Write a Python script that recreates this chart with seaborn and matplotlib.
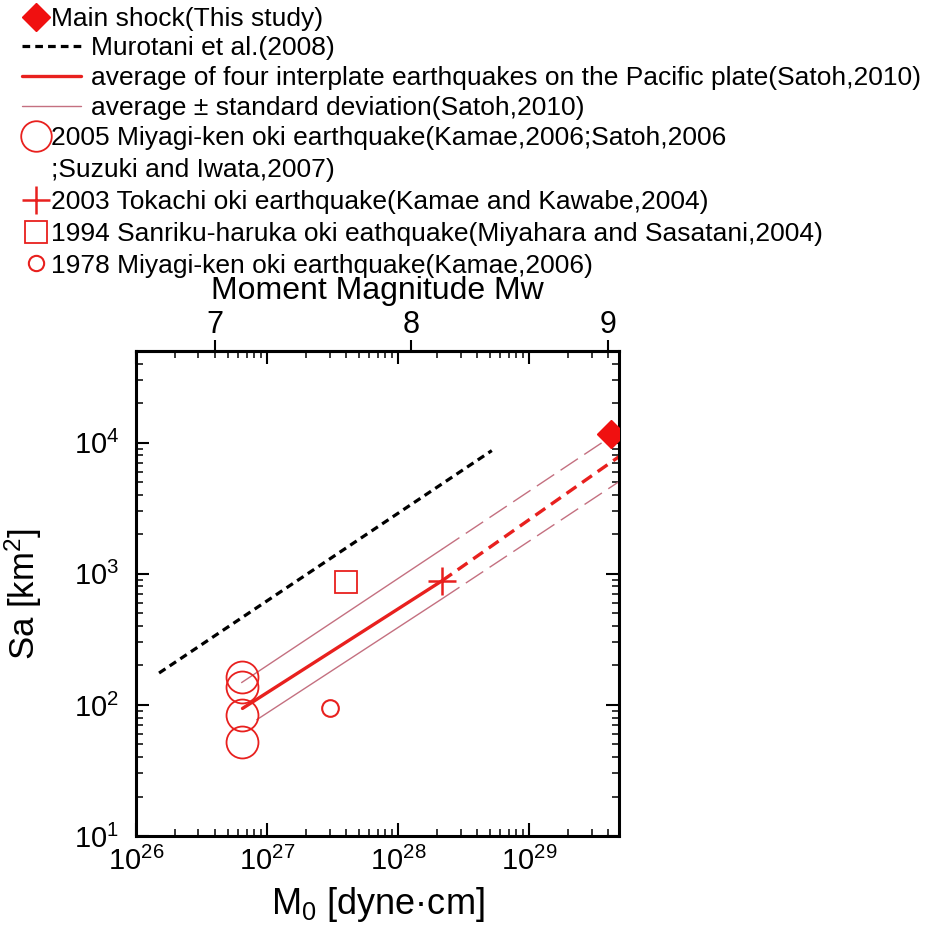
import numpy as np
import matplotlib
matplotlib.use('Agg')
import matplotlib.pyplot as plt
from matplotlib.lines import Line2D
from matplotlib.ticker import NullFormatter, NullLocator
import seaborn as sns

# values (M0 in dyne-cm, Sa in km^2)
main_m0 = [4.23e29]
main_sa = [11700]

murotani_m0 = [1.5e26, 5.2e28]
murotani_sa = [175, 8700]

# Satoh (2010): average, solid up to the 2003 event then extrapolated (dashed)
avg_m0 = [6.5e26, 2.17e28, 4.86e29]
avg_sa = [94, 885, 7820]
upper_m0 = [6.4e26, 2.17e28, 4.86e29]
upper_sa = [148, 1540, 12200]
lower_m0 = [8.34e26, 2.17e28, 4.86e29]
lower_sa = [77, 645, 5040]

miyagi2005_m0 = [6.4e26, 6.4e26, 6.4e26, 6.4e26]
miyagi2005_sa = [164, 138, 84, 52.5]
tokachi2003_m0 = [2.17e28]
tokachi2003_sa = [885]
sanriku1994_m0 = [3.99e27]
sanriku1994_sa = [873]
miyagi1978_m0 = [3.03e27]
miyagi1978_sa = [95]

labels = ['Main shock(This study)',
          'Murotani et al.(2008)',
          'average of four interplate earthquakes on the Pacific plate(Satoh,2010)',
          'average \u00b1 standard deviation(Satoh,2010)',
          '2005 Miyagi-ken oki earthquake(Kamae,2006;Satoh,2006',
          ';Suzuki and Iwata,2007)',
          '2003 Tokachi oki earthquake(Kamae and Kawabe,2004)',
          '1994 Sanriku-haruka oki eathquake(Miyahara and Sasatani,2004)',
          '1978 Miyagi-ken oki earthquake(Kamae,2006)']

RED = '#e8201e'
SD = '#c47080'

sns.set_style('ticks', {'axes.edgecolor': 'black', 'xtick.color': 'black', 'ytick.color': 'black',
                        'text.color': 'black', 'axes.labelcolor': 'black'})
plt.rcParams['font.family'] = ['Liberation Sans', 'DejaVu Sans']
plt.rcParams['mathtext.fontset'] = 'custom'
plt.rcParams['mathtext.rm'] = 'Liberation Sans'
plt.rcParams['mathtext.it'] = 'Liberation Sans:italic'

fig = plt.figure(figsize=(9.43, 9.38), dpi=100)
ax = fig.add_axes([0.1442, 0.1087, 0.5122, 0.5171])
ax.set_xscale('log')
ax.set_yscale('log')

# lines
sns.lineplot(x=murotani_m0, y=murotani_sa, ax=ax, color='black', lw=2.3,
             linestyle=(0, (2.4, 1.6)), estimator=None)
sns.lineplot(x=avg_m0[:2], y=avg_sa[:2], ax=ax, color=RED, lw=2.4, estimator=None)
sns.lineplot(x=avg_m0[1:], y=avg_sa[1:], ax=ax, color=RED, lw=2.4,
             linestyle=(0, (3.6, 2.1)), estimator=None)
for xs, ys in [(upper_m0, upper_sa), (lower_m0, lower_sa)]:
    sns.lineplot(x=xs[:2], y=ys[:2], ax=ax, color=SD, lw=1.0, estimator=None)
    sns.lineplot(x=xs[1:], y=ys[1:], ax=ax, color=SD, lw=1.0,
                 linestyle=(0, (15, 5.5)), estimator=None)

# events
ax.plot(miyagi2005_m0, miyagi2005_sa, ls='none', marker='o', ms=23, mfc='none', mec=RED, mew=1.3)
ax.plot(tokachi2003_m0, tokachi2003_sa, ls='none', marker='+', ms=20, mec=RED, mew=1.8)
ax.plot(sanriku1994_m0, sanriku1994_sa, ls='none', marker='s', ms=16.5, mfc='none', mec=RED, mew=1.3)
ax.plot(miyagi1978_m0, miyagi1978_sa, ls='none', marker='o', ms=12, mfc='none', mec=RED, mew=1.5)
ax.plot(main_m0, main_sa, ls='none', marker='D', ms=14.5, color='#f01010', zorder=5)

ax.set_xlim(1e26, 4.86e29)
ax.set_ylim(10, 5.0e4)
ax.xaxis.set_minor_formatter(NullFormatter())
ax.yaxis.set_minor_formatter(NullFormatter())
ax.tick_params(which='both', direction='in', top=True, right=True)
ax.tick_params(which='major', length=9.5, width=1.5, labelsize=21)
ax.tick_params(which='minor', length=5, width=1.1)
ax.tick_params(axis='x', which='major', pad=8)
ax.tick_params(axis='y', which='major', pad=12)
for s in ax.spines.values():
    s.set_linewidth(2.2)

ax.set_xlabel('M$_\\mathregular{0}$ [dyne\u00b7cm]', fontsize=26, labelpad=6)
ax.set_ylabel('Sa [km$^\\mathregular{2}$]', fontsize=25)
ax.yaxis.set_label_coords(-0.19, 0.5)


def m0_to_mw(m0):
    m0 = np.asarray(m0, dtype=float)
    with np.errstate(divide='ignore', invalid='ignore'):
        return (np.log10(m0) - 16.1) / 1.5


def mw_to_m0(mw):
    mw = np.asarray(mw, dtype=float)
    with np.errstate(over='ignore'):
        return 10 ** (1.5 * mw + 16.1)


secax = ax.secondary_xaxis('top', functions=(m0_to_mw, mw_to_m0))
secax.set_xticks([7, 8, 9])
secax.set_xticklabels(['7', '8', '9'])
secax.xaxis.set_minor_locator(NullLocator())
secax.tick_params(direction='out', length=8, width=1.5, labelsize=22, pad=0)
secax.spines['top'].set_linewidth(2.2)
secax.set_xlabel('Moment Magnitude Mw', fontsize=23, labelpad=8)

# legend (three stacked blocks, like the original layout)
h_main = Line2D([], [], ls='none', marker='D', ms=14.5, color='#f01010')
h_muro = Line2D([], [], color='black', lw=2.3, linestyle=(0, (2.4, 1.6)))
h_avg = Line2D([], [], color=RED, lw=2.4)
h_sd = Line2D([], [], color=SD, lw=1.0)
h_2005 = Line2D([], [], ls='none', marker='o', ms=22, mfc='none', mec=RED, mew=1.3)
h_blank = Line2D([], [], ls='none')
h_2003 = Line2D([], [], ls='none', marker='+', ms=20, mec=RED, mew=1.8)
h_1994 = Line2D([], [], ls='none', marker='s', ms=16.5, mfc='none', mec=RED, mew=1.3)
h_1978 = Line2D([], [], ls='none', marker='o', ms=11, mfc='none', mec=RED, mew=1.5)

common = dict(loc='upper left', frameon=False, fontsize=19, borderpad=0, borderaxespad=0,
              numpoints=1)
fig.legend(handles=[h_main], labels=labels[:1], bbox_to_anchor=(21 / 943, 1 - 7 / 938),
           handlelength=1.1, handletextpad=0.03, **common)
fig.legend(handles=[h_muro, h_avg, h_sd], labels=labels[1:4], bbox_to_anchor=(22 / 943, 1 - 36 / 938),
           handlelength=2.25, handletextpad=0.35, labelspacing=0.23, **common)
fig.legend(handles=[h_2005, h_blank, h_2003, h_1994, h_1978], labels=labels[4:],
           bbox_to_anchor=(21 / 943, 1 - 126 / 938),
           handlelength=1.1, handletextpad=0.03, labelspacing=0.3, **common)

fig.savefig('out.png', dpi=100)
